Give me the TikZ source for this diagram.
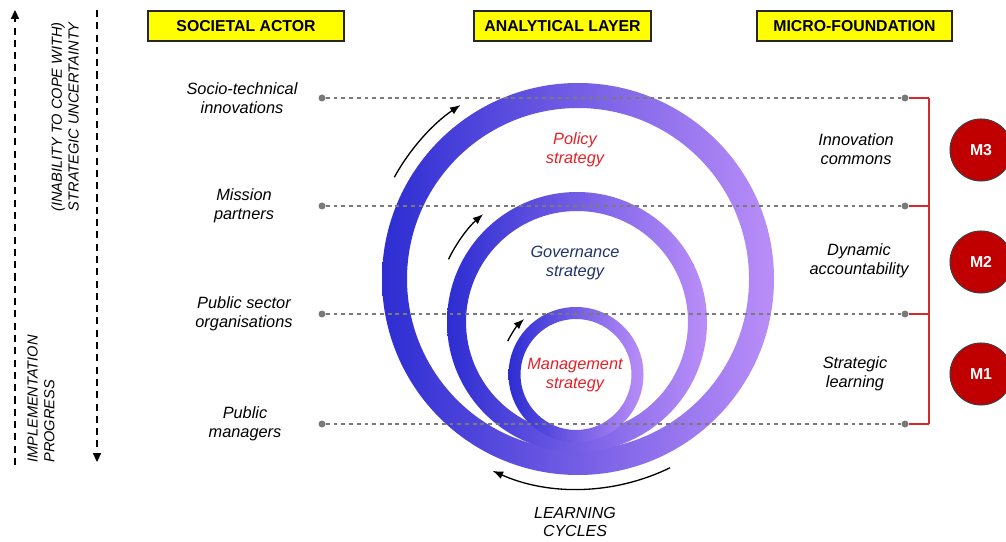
\documentclass[tikz,border=0pt]{standalone}
\usepackage{fontspec}
\setmainfont{Liberation Sans}
\usetikzlibrary{arrows.meta}
\definecolor{LCBlue}{HTML}{2D2DD2}
\definecolor{LCLilac}{HTML}{BA8EF8}
\definecolor{LCRed}{HTML}{E42128}
\definecolor{LCNavy}{HTML}{22336B}
\definecolor{LCDot}{HTML}{7A7A7A}
\definecolor{LCYellow}{HTML}{FFFF00}
\definecolor{LCMaroon}{HTML}{C00000}
\definecolor{LCSpine}{HTML}{D42A2A}

\begin{document}
\begin{tikzpicture}[x=0.02cm,y=0.02cm,
  head/.style={draw=black!85,fill=LCYellow,line width=.7pt,minimum height=.6cm,
    font=\fontsize{9}{11}\selectfont\bfseries},
  actor/.style={align=center,font=\fontsize{9.3}{10.8}\selectfont\itshape},
  layer/.style={actor},
  dot/.style={circle,fill=LCDot,inner sep=0pt,minimum size=.14cm},
  level/.style={LCDot,line width=.6pt,dash pattern=on 2.2pt off 2.2pt},
  spine/.style={LCSpine,line width=.8pt},
  mnode/.style={circle,fill=LCMaroon,draw=black!75,line width=.6pt,minimum size=1.24cm,
    text=white,font=\fontsize{9}{11}\selectfont\bfseries},
  ring/.style={left color=LCBlue,right color=LCLilac,even odd rule},
  cycle/.style={line width=.75pt,-{Latex[length=6pt,width=4.5pt]}},
  axis/.style={line width=1pt,dash pattern=on 4pt off 3pt}]
\path[use as bounding box] (0,0) rectangle (1006,541);
\fill[white] (0,0) rectangle (1006,541);

% column heads
\node[head,minimum width=3.92cm] (hActor) at (246,515) {SOCIETAL ACTOR};
\node[head,minimum width=3.54cm] (hLayer) at (562.5,515) {ANALYTICAL LAYER};
\node[head,minimum width=3.90cm] (hMicro) at (854.5,515) {MICRO-FOUNDATION};

% side axes
\coordinate (upA) at (15,76);
\coordinate (upB) at (15,531);
\coordinate (dnA) at (97,531);
\coordinate (dnB) at (97,79);
\draw[axis,-{Triangle[length=5pt,width=4.5pt]}] (upA) -- (upB);
\draw[axis,-{Triangle[length=5pt,width=4.5pt]}] (dnA) -- (dnB);
\node[rotate=90,anchor=east,align=right,inner sep=0pt,
  font=\fontsize{8.3}{9.6}\selectfont\itshape] (uncert) at (65,519)
  {(INABILITY TO COPE WITH)\\STRATEGIC UNCERTAINTY};
\node[rotate=90,anchor=west,align=left,inner sep=0pt,
  font=\fontsize{8.3}{9.6}\selectfont\itshape] (progress) at (41,78)
  {IMPLEMENTATION\\PROGRESS};

% nested strategy rings
\coordinate (cPol) at (578,262);
\coordinate (cGov) at (577,219);
\coordinate (cMan) at (576,166.5);
\shade[ring] (cPol) circle (196) (cPol) circle (171);
\shade[ring] (cGov) circle (130) (cGov) circle (111);
\shade[ring] (cMan) circle (67.5) (cMan) circle (55.5);

% levels
\foreach \i/\y in {1/443,2/335,3/227,4/117} {
  \node[dot] (l\i) at (322,\y) {};
  \node[dot] (r\i) at (905,\y) {};
  \coordinate (s\i) at (929,\y);
  \draw[level] (l\i) -- (r\i);
  \draw[spine] (r\i) -- (s\i);
}
\draw[spine] (s1) -- (s4);

% learning arrows
\draw[cycle] ([shift={(151:210)}]cPol) arc (151:124:210);
\draw[cycle] ([shift={(154:143)}]cGov) arc (154:131:143);
\draw[cycle] ([shift={(154:76)}]cMan) arc (154:133:76);
\draw[cycle] ([shift={(-64:210)}]cPol) arc (-64:-114:210);

% actors
\node[actor] (aSocio) at (242,443) {Socio-technical\\innovations};
\node[actor] (aMission) at (244,335) {Mission\\partners};
\node[actor] (aSector) at (244,227) {Public sector\\organisations};
\node[actor] (aManagers) at (245,117) {Public\\managers};

% strategies
\node[layer,text=LCRed] (tPol) at (575,391) {Policy\\strategy};
\node[layer,text=LCNavy] (tGov) at (575,278) {Governance\\strategy};
\node[layer,text=LCRed] (tMan) at (575,166) {Management\\strategy};
\node[layer,font=\fontsize{9.1}{10.8}\selectfont\itshape] (tCycles) at (575,19) {LEARNING\\CYCLES};

% micro-foundations
\node[actor] (fCommons) at (856,392) {Innovation\\commons};
\node[actor] (fAccount) at (859,280) {Dynamic\\accountability};
\node[actor] (fLearning) at (855,167) {Strategic\\learning};
\node[mnode] (m3) at (981,391) {M3};
\node[mnode] (m2) at (981,279) {M2};
\node[mnode] (m1) at (981,167) {M1};
\end{tikzpicture}
\end{document}
